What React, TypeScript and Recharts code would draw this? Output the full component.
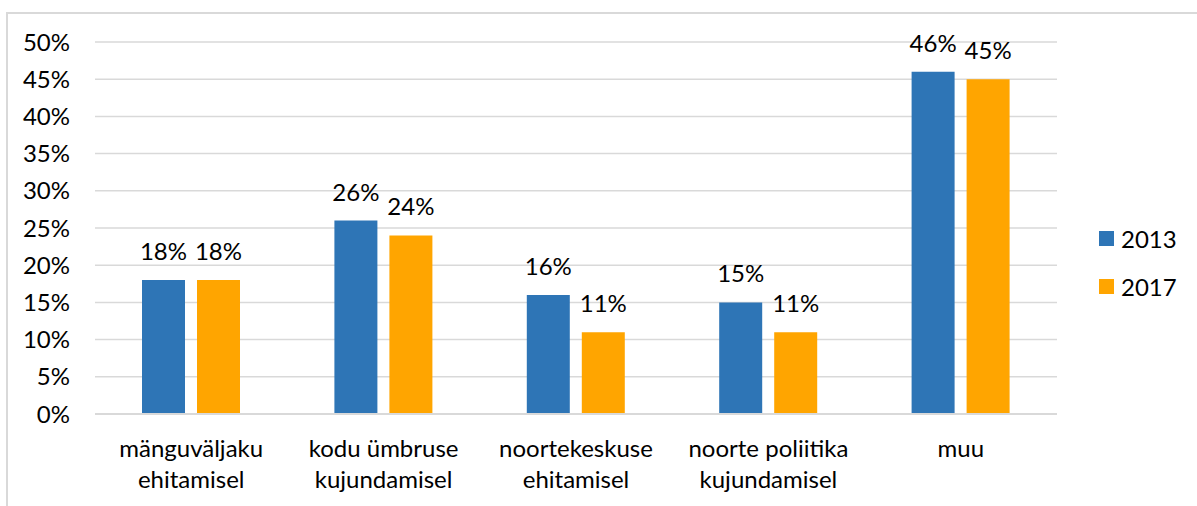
import { Bar, BarChart, CartesianGrid, LabelList, XAxis, YAxis } from "recharts";

const categories = [
  "mänguväljaku\nehitamisel",
  "kodu ümbruse\nkujundamisel",
  "noortekeskuse\nehitamisel",
  "noorte poliitika\nkujundamisel",
  "muu",
];
const values2013 = [18, 26, 16, 15, 46];
const values2017 = [18, 24, 11, 11, 45];
const yTicks = [0, 5, 10, 15, 20, 25, 30, 35, 40, 45, 50];
const legendItems = [
  { label: "2013", color: "#2E75B6" },
  { label: "2017", color: "#FFA500" },
];

const BLUE = "#2E75B6";
const ORANGE = "#FFA500";
const GRID = "#d9d9d9";
const FONT = "Lato, 'Noto Sans', sans-serif";
const FS = 24;

const data = categories.map((name, i) => ({
  name,
  y2013: values2013[i],
  y2017: values2017[i],
}));

function CategoryTick(props: any) {
  const { x, y, payload } = props;
  const lines = String(payload.value).split("\n");
  return (
    <text x={x} y={y} textAnchor="middle" fill="#000" fontSize={FS} fontFamily={FONT}>
      {lines.map((line, i) => (
        <tspan key={i} x={x} dy={i === 0 ? 41 : 31}>
          {line}
        </tspan>
      ))}
    </text>
  );
}

function SideLegend() {
  return (
    <div
      style={{
        position: "absolute",
        left: 1099,
        top: 214,
        fontFamily: FONT,
        fontSize: FS,
        color: "#000",
      }}
    >
      {legendItems.map((it) => (
        <div key={it.label} style={{ display: "flex", alignItems: "center", height: 48 }}>
          <span style={{ width: 15, height: 15, background: it.color, marginRight: 7 }} />
          <span>{it.label}</span>
        </div>
      ))}
    </div>
  );
}

export default function App() {
  return (
    <div style={{ position: "absolute", left: 0, top: 0, width: 1197, height: 506, background: "#fff" }}>
      <div
        style={{
          position: "absolute",
          left: 6,
          top: 12,
          right: 0,
          bottom: 0,
          borderTop: `2px solid ${GRID}`,
          borderLeft: `2px solid ${GRID}`,
        }}
      />
      <BarChart
        width={1197}
        height={506}
        data={data}
        margin={{ top: 42, right: 140, left: 0, bottom: 12 }}
        barSize={43}
        barGap={12}
      >
        <CartesianGrid horizontal vertical={false} stroke={GRID} strokeWidth={1.5} />
        <XAxis
          dataKey="name"
          height={80}
          axisLine={{ stroke: GRID, strokeWidth: 2 }}
          tickLine={false}
          tickSize={0}
          tick={<CategoryTick />}
          interval={0}
        />
        <YAxis
          width={95}
          domain={[0, 50]}
          ticks={yTicks}
          axisLine={false}
          tickLine={false}
          tickSize={0}
          tickMargin={25}
          tickFormatter={(v: number) => `${v}%`}
          tick={{ fill: "#000", fontSize: FS, fontFamily: FONT }}
        />
        <Bar dataKey="y2013" name="2013" fill={BLUE} isAnimationActive={false}>
          <LabelList
            dataKey="y2013"
            position="top"
            offset={20}
            formatter={(v: any) => `${v}%`}
            style={{ fill: "#000", fontSize: FS, fontFamily: FONT }}
          />
        </Bar>
        <Bar dataKey="y2017" name="2017" fill={ORANGE} isAnimationActive={false}>
          <LabelList
            dataKey="y2017"
            position="top"
            offset={20}
            formatter={(v: any) => `${v}%`}
            style={{ fill: "#000", fontSize: FS, fontFamily: FONT }}
          />
        </Bar>
      </BarChart>
      <SideLegend />
    </div>
  );
}
